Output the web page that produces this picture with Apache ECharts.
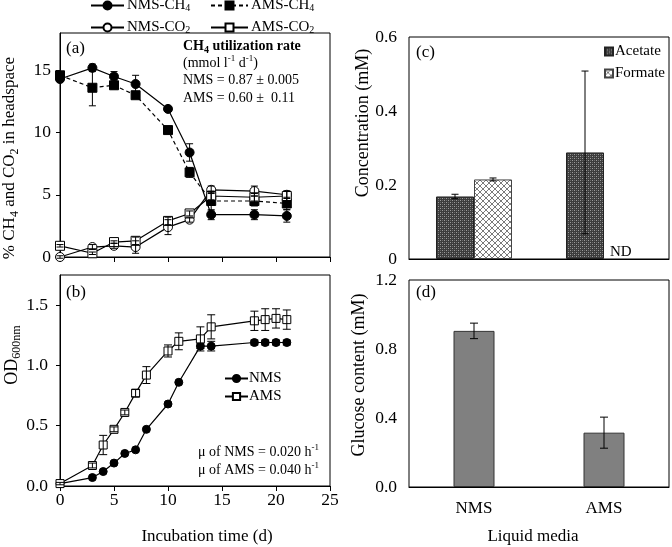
<!DOCTYPE html>
<html><head><meta charset="utf-8">
<script src="https://cdn.jsdelivr.net/npm/echarts@6/dist/echarts.min.js"></script>
<style>html,body{margin:0;padding:0;background:#fff}#c{width:672px;height:547px}</style>
</head><body><div id="c"></div>
<script>
// ---------- data ----------
const daysA = [0, 3, 5, 7, 10, 12, 14, 18, 21];
const nmsCH4 = [14.3, 15.2, 14.5, 13.9, 11.9, 8.4, 3.4, 3.4, 3.3];
const nmsCH4Err = [0.2, 0.3, 0.4, 0.7, 0.2, 0.7, 0.4, 0.4, 0.5];
const amsCH4 = [14.6, 13.6, 13.8, 13.0, 10.2, 6.8, 4.5, 4.5, 4.3];
const amsCH4Err = [0.2, 1.45, 0.3, 0.2, 0.2, 0.4, 0.8, 0.4, 0.5];
const nmsCO2 = [0.0, 0.8, 0.9, 0.8, 2.4, 3.0, 5.4, 5.3, 5.0];
const nmsCO2Err = [0.1, 0.2, 0.2, 0.5, 0.6, 0.2, 0.3, 0.4, 0.3];
const amsCO2 = [0.9, 0.3, 1.2, 1.3, 2.9, 3.5, 4.9, 4.8, 4.9];
const amsCO2Err = [0.1, 0.1, 0.1, 0.3, 0.3, 0.2, 0.3, 0.3, 0.4];

const daysB = [0, 3, 4, 5, 6, 7, 8, 10, 11, 13, 14, 18, 19, 20, 21];
const nmsOD = [0.02, 0.07, 0.12, 0.19, 0.27, 0.30, 0.47, 0.68, 0.86, 1.16, 1.16, 1.19, 1.19, 1.19, 1.19];
const nmsODErr = [0, 0, 0, 0, 0, 0, 0, 0, 0, 0.02, 0.04, 0.02, 0.02, 0.02, 0.02];
const amsOD = [0.02, 0.17, 0.34, 0.47, 0.61, 0.77, 0.92, 1.12, 1.20, 1.22, 1.32, 1.37, 1.38, 1.39, 1.38];
const amsODErr = [0.01, 0.02, 0.08, 0.02, 0.02, 0.03, 0.07, 0.05, 0.07, 0.10, 0.10, 0.08, 0.09, 0.08, 0.08];

const media = ['NMS', 'AMS'];
const acetate = [0.169, 0.288];
const acetateErr = [0.006, 0.22];
const formate = [0.215, null];
const formateErr = [0.004, null];
const glucose = [0.905, 0.315];
const glucoseErr = [0.045, 0.09];

const ticksA = [0, 5, 10, 15];
const ticksB = [0, 0.5, 1.0, 1.5];

// ---------- styles ----------
const FONT = '"Liberation Serif","Times New Roman",serif';
function richSet(size) {
  return {
    t: {fontSize: size, fontFamily: FONT, lineHeight: size + 4, verticalAlign: 'middle', fill: '#000', color: '#000'},
    b: {fontSize: size, fontFamily: FONT, fontWeight: 'bold', lineHeight: size + 4, verticalAlign: 'middle', fill: '#000', color: '#000'},
    s: {fontSize: Math.round(size * 0.68), fontFamily: FONT, lineHeight: Math.round(size * 0.62), verticalAlign: 'bottom', fill: '#000', color: '#000'},
    bs: {fontSize: Math.round(size * 0.68), fontFamily: FONT, fontWeight: 'bold', lineHeight: Math.round(size * 0.62), verticalAlign: 'bottom', fill: '#000', color: '#000'},
    p: {fontSize: Math.round(size * 0.62), fontFamily: FONT, lineHeight: Math.round(size * 0.62), verticalAlign: 'top', fill: '#000', color: '#000'}
  };
}

function makePattern(kind) {
  const cv = document.createElement('canvas');
  const g = cv.getContext('2d');
  if (kind === 'acetate') {
    cv.width = 4; cv.height = 4;
    g.fillStyle = '#3c3c3c'; g.fillRect(0, 0, 4, 4);
    g.fillStyle = '#9c9c9c'; g.fillRect(0, 0, 1, 1); g.fillRect(2, 2, 1, 1);
    g.fillStyle = '#6a6a6a'; g.fillRect(2, 0, 1, 1); g.fillRect(0, 2, 1, 1);
  } else {
    cv.width = 6; cv.height = 6;
    g.fillStyle = '#ffffff'; g.fillRect(0, 0, 6, 6);
    g.strokeStyle = '#7a7a7a'; g.lineWidth = 1;
    g.beginPath(); g.moveTo(0, 0); g.lineTo(6, 6); g.moveTo(6, 0); g.lineTo(0, 6); g.stroke();
  }
  return cv;
}
const patAcetate = {image: makePattern('acetate'), repeat: 'repeat'};
const patFormate = {image: makePattern('formate'), repeat: 'repeat'};

function errRender(offset, cap) {
  return function (params, api) {
    const x = api.value(0), y = api.value(1), e = api.value(2);
    if (!e || isNaN(y)) return null;
    const p1 = api.coord([x, y + e]), p2 = api.coord([x, y - e]);
    const px = p1[0] + offset;
    const st = {stroke: '#000', lineWidth: 1};
    return {type: 'group', children: [
      {type: 'line', shape: {x1: px, y1: p1[1], x2: px, y2: p2[1]}, style: st},
      {type: 'line', shape: {x1: px - cap, y1: p1[1], x2: px + cap, y2: p1[1]}, style: st},
      {type: 'line', shape: {x1: px - cap, y1: p2[1], x2: px + cap, y2: p2[1]}, style: st}
    ]};
  };
}
function zip(xs, ys) { return xs.map((x, i) => [x, ys[i]]); }
function zip3(xs, ys, es) { return xs.map((x, i) => [x, ys[i], es[i]]); }

function lineSeries(name, xi, xs, ys, symbol, filled, dashed, size) {
  return {
    name: name, type: 'line', xAxisIndex: xi, yAxisIndex: xi,
    data: zip(xs, ys), symbol: symbol, symbolSize: size,
    lineStyle: {color: '#000', width: 1.2, type: dashed ? [4, 3] : 'solid'},
    itemStyle: {color: filled ? '#000' : '#fff', borderColor: '#000', borderWidth: 1},
    emphasis: {disabled: true}, z: 3
  };
}
function errSeries(xi, xs, ys, es, offset, cap) {
  return {
    type: 'custom', xAxisIndex: xi, yAxisIndex: xi,
    data: zip3(xs, ys, es), renderItem: errRender(offset || 0, cap || 3.5),
    z: 4, silent: true
  };
}

const axisLine = {lineStyle: {color: '#000', width: 1}};
const tickStyle = {lineStyle: {color: '#000', width: 1}};
const labelBase = {color: '#000', fontFamily: FONT, fontSize: 17.5};

function legendSub(name) {
  return name.replace(/(CH|CO)(\d)/, '$1{s|$2}');
}
function topLegend(name, left, top, width) {
  return {
    data: [name], left: left, top: top, itemWidth: width, itemHeight: 10, itemGap: 0,
    padding: 0, selectedMode: false,
    formatter: legendSub,
    textStyle: {color: '#000', fontFamily: FONT, fontSize: 15, padding: [0, 0, 0, -2], rich: richSet(15)}
  };
}

const option = {
  animation: false,
  backgroundColor: '#fff',
  textStyle: {fontFamily: FONT},
  grid: [
    {left: 60, top: 33, width: 270, height: 224, show: true, borderColor: '#000', borderWidth: 1, outerBoundsMode: 'none'},
    {left: 60, top: 275, width: 270, height: 211, show: true, borderColor: '#000', borderWidth: 1, outerBoundsMode: 'none'},
    {left: 409, top: 37, width: 260, height: 222, show: true, borderColor: '#000', borderWidth: 1, outerBoundsMode: 'none'},
    {left: 409, top: 280, width: 260, height: 207, show: true, borderColor: '#000', borderWidth: 1, outerBoundsMode: 'none'}
  ],
  xAxis: [
    {type: 'value', gridIndex: 0, min: 0, max: 25, interval: 5, axisLine: axisLine,
      axisTick: Object.assign({length: 5}, tickStyle), axisLabel: {show: false}, splitLine: {show: false}},
    {type: 'value', gridIndex: 1, min: 0, max: 25, interval: 5, axisLine: axisLine,
      axisTick: Object.assign({length: 5}, tickStyle), axisLabel: Object.assign({margin: 5}, labelBase), splitLine: {show: false}},
    {type: 'category', gridIndex: 2, data: media, axisLine: axisLine,
      axisTick: Object.assign({length: 5, alignWithLabel: false}, tickStyle), axisLabel: {show: false}},
    {type: 'category', gridIndex: 3, data: media, axisLine: axisLine,
      axisTick: {show: false}, axisLabel: Object.assign({margin: 13}, labelBase, {fontSize: 17})}
  ],
  yAxis: [
    {type: 'value', gridIndex: 0, min: 0, max: 18, axisLine: axisLine,
      axisTick: Object.assign({length: 4, customValues: ticksA}, tickStyle),
      axisLabel: Object.assign({margin: 9, customValues: ticksA}, labelBase), splitLine: {show: false}},
    {type: 'value', gridIndex: 1, min: 0, max: 1.75, axisLine: axisLine,
      axisTick: Object.assign({length: 4, customValues: ticksB}, tickStyle),
      axisLabel: Object.assign({margin: 12, customValues: ticksB, formatter: v => v.toFixed(1)}, labelBase), splitLine: {show: false}},
    {type: 'value', gridIndex: 2, min: 0, max: 0.6, interval: 0.2, axisLine: axisLine,
      axisTick: Object.assign({length: 4}, tickStyle),
      axisLabel: Object.assign({margin: 12, formatter: v => v === 0 ? '0' : v.toFixed(1)}, labelBase), splitLine: {show: false}},
    {type: 'value', gridIndex: 3, min: 0, max: 1.2, interval: 0.4, axisLine: axisLine,
      axisTick: Object.assign({length: 4}, tickStyle),
      axisLabel: Object.assign({margin: 12, formatter: v => v.toFixed(1)}, labelBase), splitLine: {show: false}}
  ],
  legend: [
    topLegend('NMS-CH4', 90, -2, 33),
    topLegend('AMS-CH4', 210, -2, 37),
    topLegend('NMS-CO2', 90, 20, 33),
    topLegend('AMS-CO2', 210, 20, 37),
    {data: ['NMS', 'AMS'], orient: 'vertical', left: 224, top: 371, itemWidth: 23, itemHeight: 9, itemGap: 3,
      padding: 0, selectedMode: false,
      textStyle: {color: '#000', fontFamily: FONT, fontSize: 15, padding: [0, 0, 0, -4]}},
    {data: ['Acetate', 'Formate'], orient: 'vertical', left: 604, top: 44, itemWidth: 8, itemHeight: 8, itemGap: 7,
      padding: 0, selectedMode: false, icon: 'rect',
      textStyle: {color: '#000', fontFamily: FONT, fontSize: 15, padding: [0, 0, 0, -3]}}
  ],
  series: [
    errSeries(0, daysA, nmsCH4, nmsCH4Err),
    errSeries(0, daysA, amsCH4, amsCH4Err),
    errSeries(0, daysA, nmsCO2, nmsCO2Err),
    errSeries(0, daysA, amsCO2, amsCO2Err),
    lineSeries('NMS-CH4', 0, daysA, nmsCH4, 'circle', true, false, 9),
    lineSeries('AMS-CH4', 0, daysA, amsCH4, 'rect', true, true, 9),
    lineSeries('NMS-CO2', 0, daysA, nmsCO2, 'circle', false, false, 9),
    lineSeries('AMS-CO2', 0, daysA, amsCO2, 'rect', false, false, 9),

    lineSeries('NMS', 1, daysB, nmsOD, 'circle', true, false, 8),
    lineSeries('AMS', 1, daysB, amsOD, 'rect', false, false, 8),
    errSeries(1, daysB, nmsOD, nmsODErr, 0, 4),
    errSeries(1, daysB, amsOD, amsODErr, 0, 4),

    {name: 'Acetate', type: 'bar', xAxisIndex: 2, yAxisIndex: 2, data: acetate, barWidth: 38, barGap: '0%',
      itemStyle: {color: patAcetate, borderColor: '#222', borderWidth: 1}, emphasis: {disabled: true}},
    {name: 'Formate', type: 'bar', xAxisIndex: 2, yAxisIndex: 2, data: formate, barWidth: 38, barGap: '0%',
      itemStyle: {color: patFormate, borderColor: '#444', borderWidth: 1}, emphasis: {disabled: true}},
    errSeries(2, [0, 1], acetate, acetateErr, -19, 3.5),
    errSeries(2, [0, 1], formate, formateErr, 19, 3.5),

    {name: 'Glucose', type: 'bar', xAxisIndex: 3, yAxisIndex: 3, data: glucose, barWidth: 41,
      itemStyle: {color: '#808080', borderColor: '#333', borderWidth: 1}, emphasis: {disabled: true}},
    errSeries(3, [0, 1], glucose, glucoseErr, 0, 4)
  ],
  graphic: [
    {type: 'text', x: 66, y: 49, style: {text: '(a)', font: '17px ' + FONT, fill: '#000', verticalAlign: 'middle'}},
    {type: 'text', x: 183, y: 46, style: {text: '{b|CH}{bs|4}{b| utilization rate}', rich: richSet(14), verticalAlign: 'middle'}},
    {type: 'text', x: 183, y: 63, style: {text: '{t|(mmol l}{p|-1}{t| d}{p|-1}{t|)}', rich: richSet(14), verticalAlign: 'middle'}},
    {type: 'text', x: 183, y: 80, style: {text: 'NMS = 0.87 \u00b1 0.005', font: '14px ' + FONT, fill: '#000', verticalAlign: 'middle'}},
    {type: 'text', x: 183, y: 98, style: {text: 'AMS = 0.60 \u00b1  0.11', font: '14px ' + FONT, fill: '#000', verticalAlign: 'middle'}},
    {type: 'text', x: 66, y: 293, style: {text: '(b)', font: '17px ' + FONT, fill: '#000', verticalAlign: 'middle'}},
    {type: 'text', x: 198, y: 452, style: {text: '{t|\u03bc of NMS = 0.020 h}{p|-1}', rich: richSet(14), verticalAlign: 'middle'}},
    {type: 'text', x: 198, y: 470, style: {text: '{t|\u03bc of AMS = 0.040 h}{p|-1}', rich: richSet(14), verticalAlign: 'middle'}},
    {type: 'text', x: 416, y: 53, style: {text: '(c)', font: '17px ' + FONT, fill: '#000', verticalAlign: 'middle'}},
    {type: 'text', x: 416, y: 293, style: {text: '(d)', font: '17px ' + FONT, fill: '#000', verticalAlign: 'middle'}},
    {type: 'text', x: 610, y: 252, style: {text: 'ND', font: '15px ' + FONT, fill: '#000', verticalAlign: 'middle'}},
    {type: 'text', x: 207, y: 537, style: {text: 'Incubation time (d)', font: '17px ' + FONT, fill: '#000', align: 'center', verticalAlign: 'middle'}},
    {type: 'text', x: 533, y: 537, style: {text: 'Liquid media', font: '17px ' + FONT, fill: '#000', align: 'center', verticalAlign: 'middle'}},
    {type: 'text', x: 10, y: 158, rotation: Math.PI / 2, style: {text: '{t|% CH}{s|4}{t| and CO}{s|2}{t| in headspace}', rich: richSet(17), align: 'center', verticalAlign: 'middle'}},
    {type: 'text', x: 12, y: 355, rotation: Math.PI / 2, style: {text: '{t|OD}{s|600nm}', rich: richSet(18), align: 'center', verticalAlign: 'middle'}},
    {type: 'text', x: 363, y: 123, rotation: Math.PI / 2, style: {text: 'Concentration (mM)', font: '18px ' + FONT, fill: '#000', align: 'center', verticalAlign: 'middle'}},
    {type: 'text', x: 359, y: 375, rotation: Math.PI / 2, style: {text: 'Glucose content (mM)', font: '18px ' + FONT, fill: '#000', align: 'center', verticalAlign: 'middle'}}
  ]
};
const chart = echarts.init(document.getElementById('c'), null, {renderer: 'canvas'});
chart.setOption(option);
</script>
</body></html>
